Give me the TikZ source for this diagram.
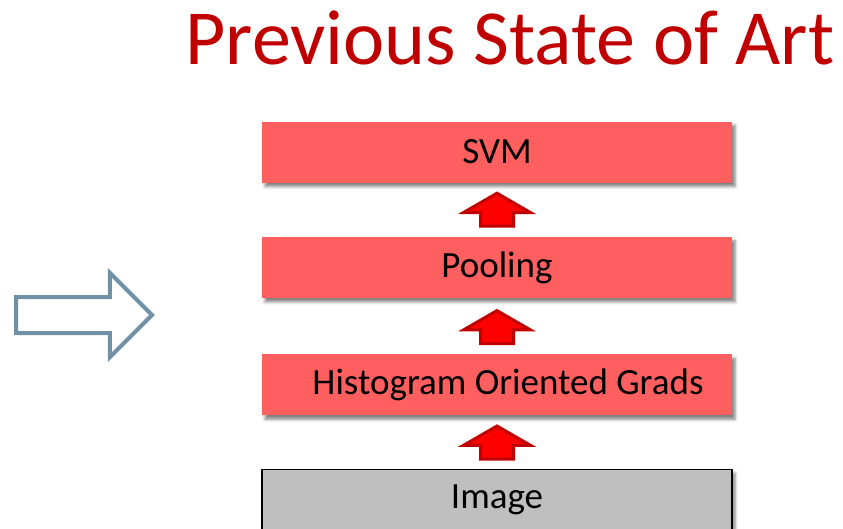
\documentclass[tikz,border=0pt]{standalone}
\usepackage{fontspec}
\setmainfont{Carlito}
\usepackage{tikz}
\usetikzlibrary{positioning}
\usetikzlibrary{shapes.arrows}
\usetikzlibrary{shadows.blur}
\definecolor{titlered}{RGB}{192,0,0}
\definecolor{boxred}{RGB}{255,95,95}
\definecolor{steel}{RGB}{112,144,166}
\tikzset{
layer/.style={rectangle, fill=boxred, minimum width=470pt, minimum height=61pt, text=black, font=\fontsize{37}{40}\selectfont, blur shadow={shadow xshift=3pt, shadow yshift=-4pt, shadow blur radius=3pt, shadow opacity=50}},
input_layer/.style={layer, fill=black!25, draw=black, line width=1.5pt},
up_arrow/.style={single arrow, shape border rotate=90, fill=red, draw=titlered, line width=3pt, single arrow tip angle=120, single arrow head extend=17pt, minimum height=33pt, inner xsep=15pt, inner ysep=0pt},
big_arrow/.style={single arrow, fill=white, draw=steel, line width=4pt, single arrow head extend=24pt, minimum height=136pt, inner sep=16pt}
}
\begin{document}
\begin{tikzpicture}[x=1pt, y=-1pt]
    \useasboundingbox (0,0) rectangle (843,528);
    \node[anchor=base, text=titlered, font=\fontsize{78}{84}\selectfont] (title) at (510,64) {Previous State of Art};

    \node[layer] (svm) at (497,152) {SVM};
    \node[layer] (pooling) [below=54pt of svm] {Pooling};
    \node[layer] (hog) [below=56pt of pooling] {\hspace*{22pt}Histogram Oriented Grads};
    \node[input_layer] (image) [below=53pt of hog] {Image};

    \node[up_arrow] (up_1) [above=9pt of pooling] {};
    \node[up_arrow] (up_2) [above=9pt of hog] {};
    \node[up_arrow] (up_3) [above=8pt of image] {};

    \node[big_arrow] (next) at (75,315) {};
\end{tikzpicture}
\end{document}
